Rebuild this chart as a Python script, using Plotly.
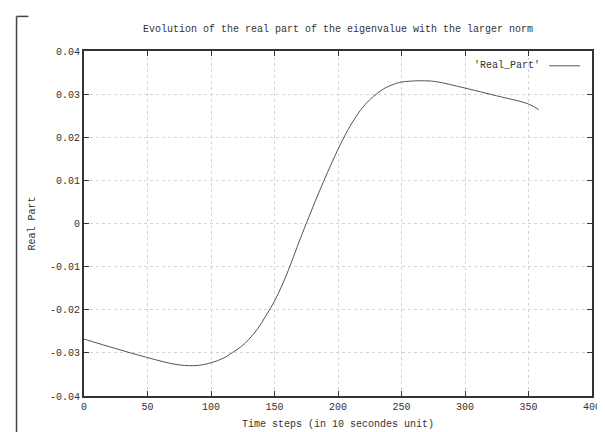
import plotly.graph_objects as go

time_steps = [0, 25, 50, 75, 90, 100, 110, 117, 124, 130, 137, 143, 150, 156,
              162, 168, 175, 182, 189, 195, 200, 206, 211, 218, 225, 231, 237,
              244, 250, 265, 277, 300, 325, 350, 358]
real_part = [-0.0268, -0.0290, -0.0311, -0.0328, -0.0329, -0.0323, -0.0312,
             -0.0299, -0.0285, -0.0268, -0.0243, -0.0215, -0.0180, -0.0143,
             -0.0100, -0.0053, 0.0000, 0.0051, 0.0100, 0.0140, 0.0172, 0.0207,
             0.0233, 0.0264, 0.0287, 0.0302, 0.0314, 0.0323, 0.0328, 0.0331,
             0.0329, 0.0314, 0.0296, 0.0277, 0.0264]

x_ticks = [0, 50, 100, 150, 200, 250, 300, 350, 400]
y_ticks = [-0.04, -0.03, -0.02, -0.01, 0, 0.01, 0.02, 0.03, 0.04]
y_ticktext = ["-0.04", "-0.03", "-0.02", "-0.01", "0", "0.01", "0.02", "0.03", "0.04"]

title_text = "Evolution of the real part of the eigenvalue with the larger norm"
legend_text = "'Real_Part'"

font = dict(family="Liberation Mono, Courier New, monospace", size=10, color="#333333")

fig = go.Figure()
fig.add_trace(go.Scatter(x=time_steps, y=real_part, mode="lines",
                         line=dict(color="#555555", width=1, shape="spline", smoothing=1.0),
                         showlegend=False, hoverinfo="skip"))

axis_common = dict(showline=True, linecolor="#333333", linewidth=2, mirror="ticks",
                   ticks="inside", ticklen=5, tickcolor="#333333", tickwidth=1,
                   showgrid=True, gridcolor="#d4d4d4", griddash="dot", gridwidth=1,
                   zeroline=False, tickfont=font)

fig.update_xaxes(range=[0, 400], tickvals=x_ticks, **axis_common,
                 title=dict(text="Time steps (in 10 secondes unit)", font=font, standoff=8))
fig.update_yaxes(range=[-0.04, 0.04], tickvals=y_ticks, ticktext=y_ticktext, **axis_common,
                 title=dict(text="Real Part", font=font, standoff=12))

fig.update_layout(
    width=605, height=432,
    margin=dict(l=76, r=17, t=43, b=40),
    paper_bgcolor="white", plot_bgcolor="white",
    font=font,
    title=dict(text=title_text, x=330 / 605, xanchor="center", y=1 - 20 / 432,
               yanchor="middle", font=dict(family=font["family"], size=10, color="#333333")),
    annotations=[dict(text=legend_text, xref="paper", yref="paper",
                      x=(538 - 76) / 512, y=(392 - 58) / 349, xanchor="right", yanchor="middle",
                      showarrow=False, font=font)],
    shapes=[
        dict(type="line", xref="paper", yref="paper",
             x0=(545 - 76) / 512, x1=(576 - 76) / 512,
             y0=(392 - 58) / 349, y1=(392 - 58) / 349,
             line=dict(color="#555555", width=1)),
        dict(type="line", xref="paper", yref="paper",
             x0=(8 - 76) / 512, x1=(8 - 76) / 512,
             y0=(392 - 8) / 349, y1=(392 - 432) / 349,
             line=dict(color="#444444", width=1.5)),
        dict(type="line", xref="paper", yref="paper",
             x0=(8 - 76) / 512, x1=(20 - 76) / 512,
             y0=(392 - 8) / 349, y1=(392 - 8) / 349,
             line=dict(color="#444444", width=1.5)),
    ],
)

fig.write_html("out.html")
